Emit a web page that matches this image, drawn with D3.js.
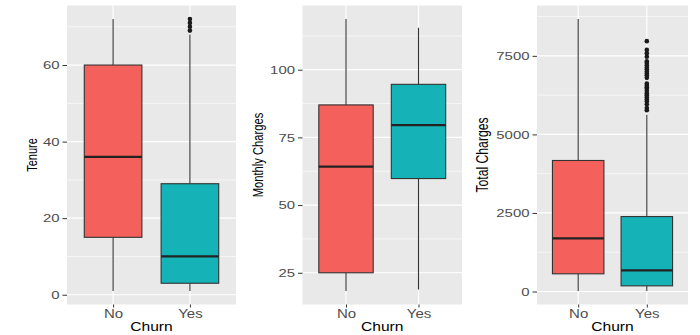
<!DOCTYPE html>
<html>
<head>
<meta charset="utf-8">
<script src="https://cdn.jsdelivr.net/npm/d3@7"></script>
<style>
  html, body { margin: 0; padding: 0; background: #ffffff; }
  svg { display: block; font-family: "Liberation Sans", Arial, sans-serif; }
</style>
</head>
<body>
<svg id="chart" width="700" height="335"></svg>
<script>
// Churn groups shown on every x axis
const churnGroups = ["No", "Yes"];
const groupColors = ["#F4615C", "#15B3B7"];

// Five-number summaries per group: [lower whisker, Q1, median, Q3, upper whisker]
const tenureBoxes = [[1, 15, 36, 60, 72], [1, 3, 10, 29, 68]];
const tenureOutliers = [[], [69, 70, 71, 72]];
const tenureTicks = [0, 20, 40, 60];

const monthlyBoxes = [[18.3, 25, 64.2, 87.0, 118.7], [18.8, 59.8, 79.5, 94.6, 115.5]];
const monthlyOutliers = [[], []];
const monthlyTicks = [25, 50, 75, 100];

const totalBoxes = [[19, 563, 1690, 4170, 8670], [19, 180, 670, 2385, 5624]];
const totalOutliers = [[], [7968, 7690, 7580, 7470, 7330, 7270, 7200, 7130, 7070, 7000, 6940,
  6880, 6800, 6620, 6560, 6500, 6450, 6380, 6310, 6250, 6180, 6110, 6050, 5960, 5840, 5770]];
const totalTicks = [0, 2500, 5000, 7500];

const yTitles = ["Tenure", "Monthly Charges", "Total Charges"];
const xTitle = "Churn";

const panels = [
  { boxes: tenureBoxes, outliers: tenureOutliers, ticks: tenureTicks, title: yTitles[0],
    x0: 67, x1: 236, titleX: 31.5, titleSize: 11 },
  { boxes: monthlyBoxes, outliers: monthlyOutliers, ticks: monthlyTicks, title: yTitles[1],
    x0: 302.5, x1: 462, titleX: 257.5, titleSize: 11.2 },
  { boxes: totalBoxes, outliers: totalOutliers, ticks: totalTicks, title: yTitles[2],
    x0: 537, x1: 688, titleX: 482.5, titleSize: 12.2 }
];

const panelTop = 5.5, panelBottom = 304.5;
const svg = d3.select("#chart");
const textStretch = 1.45;

panels.forEach(p => {
  const all = p.boxes.flat().concat(p.outliers.flat());
  const lo = d3.min(all), hi = d3.max(all), pad = (hi - lo) * 0.05;
  const y = d3.scaleLinear().domain([lo - pad, hi + pad]).range([panelBottom, panelTop]);
  const x = d3.scalePoint().domain(churnGroups).range([p.x0, p.x1]).padding(0.6);
  const boxW = x.step() * 0.75;

  const g = svg.append("g");

  // panel background
  g.append("rect")
    .attr("x", p.x0).attr("y", panelTop)
    .attr("width", p.x1 - p.x0).attr("height", panelBottom - panelTop)
    .attr("fill", "#E9E9E9");

  // minor horizontal grid between major breaks
  const step = p.ticks[1] - p.ticks[0];
  const [dLo, dHi] = y.domain();
  const minors = d3.range(p.ticks[0] - step / 2, p.ticks[p.ticks.length - 1] + step, step)
    .filter(v => v > dLo && v < dHi);
  g.selectAll(".minor").data(minors).join("line")
    .attr("x1", p.x0).attr("x2", p.x1)
    .attr("y1", d => y(d)).attr("y2", d => y(d))
    .attr("stroke", "#ffffff").attr("stroke-width", 0.6);

  // major grid
  g.selectAll(".major").data(p.ticks).join("line")
    .attr("x1", p.x0).attr("x2", p.x1)
    .attr("y1", d => y(d)).attr("y2", d => y(d))
    .attr("stroke", "#ffffff").attr("stroke-width", 1.2);
  g.selectAll(".vmajor").data(churnGroups).join("line")
    .attr("x1", d => x(d)).attr("x2", d => x(d))
    .attr("y1", panelTop).attr("y2", panelBottom)
    .attr("stroke", "#ffffff").attr("stroke-width", 1.2);

  // boxes
  churnGroups.forEach((grp, i) => {
    const [wLo, q1, med, q3, wHi] = p.boxes[i];
    const cx = x(grp);
    const bg = g.append("g");
    bg.append("line").attr("x1", cx).attr("x2", cx).attr("y1", y(wHi)).attr("y2", y(q3))
      .attr("stroke", "#333333").attr("stroke-width", 1.1);
    bg.append("line").attr("x1", cx).attr("x2", cx).attr("y1", y(q1)).attr("y2", y(wLo))
      .attr("stroke", "#333333").attr("stroke-width", 1.1);
    bg.append("rect")
      .attr("x", cx - boxW / 2).attr("y", y(q3))
      .attr("width", boxW).attr("height", y(q1) - y(q3))
      .attr("fill", groupColors[i]).attr("stroke", "#333333").attr("stroke-width", 1.1);
    bg.append("line").attr("x1", cx - boxW / 2).attr("x2", cx + boxW / 2)
      .attr("y1", y(med)).attr("y2", y(med))
      .attr("stroke", "#222222").attr("stroke-width", 2.2);
    bg.selectAll("circle").data(p.outliers[i]).join("circle")
      .attr("cx", cx).attr("cy", d => y(d)).attr("r", 2.3)
      .attr("fill", "#1a1a1a");
  });

  // y axis
  const yAxis = d3.axisLeft(y).tickValues(p.ticks).tickFormat(d3.format("d"))
    .tickSize(4.5).tickPadding(0);
  const ya = g.append("g").attr("transform", `translate(${p.x0},0)`).call(yAxis);
  ya.select(".domain").remove();
  ya.selectAll(".tick line").attr("stroke", "#333333").attr("stroke-width", 1);
  ya.selectAll(".tick text")
    .attr("x", -7.5 / textStretch).attr("dy", "0.36em")
    .attr("transform", `scale(${textStretch},1)`)
    .attr("fill", "#4D4D4D").style("font-size", "10.3px");

  // x axis, labels stretched to the same wide look
  const xAxis = d3.axisBottom(x).tickSize(3).tickPadding(0);
  const xa = g.append("g").attr("transform", `translate(0,${panelBottom})`).call(xAxis);
  xa.select(".domain").remove();
  xa.selectAll(".tick line").attr("stroke", "#333333").attr("stroke-width", 1);
  xa.selectAll(".tick text")
    .attr("x", 0).attr("y", 0).attr("dy", "13.6")
    .attr("transform", "scale(1.25,1)")
    .attr("fill", "#4D4D4D").style("font-size", "12px");

  // axis titles
  g.append("text")
    .attr("transform", `translate(${(p.x0 + p.x1) / 2},331) scale(1.3,1)`)
    .attr("text-anchor", "middle")
    .style("font-size", "12px").attr("fill", "#000")
    .text(xTitle);
  g.append("text")
    .attr("transform", `translate(${p.titleX},${(panelTop + panelBottom) / 2}) scale(1.3,1) rotate(-90)`)
    .attr("text-anchor", "middle").attr("dy", "0.35em")
    .style("font-size", p.titleSize + "px").attr("fill", "#000")
    .text(p.title);
});
</script>
</body>
</html>
